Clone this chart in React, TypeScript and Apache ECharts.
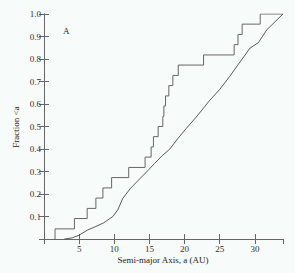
import React, { useEffect, useRef } from "react";
import * as echarts from "echarts";

// Step (cumulative) distribution: x where each step occurs, and the fraction reached
const stepX = [1.57, 1.57, 4.33, 6.14, 7.38, 8.38, 9.62, 12.05, 14.38, 15.24, 15.57, 16.24, 16.9, 17.05, 17.29, 17.76, 18.33, 19.1, 22.7, 27.05, 27.6, 28.19, 30.76, 34.0];
const stepY = [0, 0.045, 0.091, 0.136, 0.182, 0.227, 0.273, 0.318, 0.364, 0.409, 0.455, 0.5, 0.545, 0.591, 0.636, 0.682, 0.727, 0.773, 0.818, 0.864, 0.909, 0.955, 1.0, 1.0];

// Smooth cumulative curve
const curveX = [2.9, 4.0, 5.0, 6.2, 7.4, 8.5, 9.8, 10.5, 11.2, 12.3, 13.7, 14.8, 15.7, 16.8, 17.9, 19.0, 20.2, 21.6, 22.9, 23.4, 25.0, 26.4, 27.5, 28.1, 29.3, 30.5, 31.7, 34.0];
const curveY = [0, 0.005, 0.017, 0.04, 0.056, 0.072, 0.1, 0.13, 0.18, 0.225, 0.27, 0.305, 0.335, 0.37, 0.4, 0.445, 0.49, 0.54, 0.59, 0.61, 0.665, 0.722, 0.77, 0.796, 0.848, 0.873, 0.93, 1.0];

const xMin = 0;
const xMax = 34;
const xStep = 5;
const yMin = 0;
const yMax = 1;
const yStep = 0.1;

const panelLabel = "A";
const xTitle = "Semi-major Axis, a (AU)";
const yTitle = "Fraction <a";

export default function App() {
  const ref = useRef<HTMLDivElement>(null);
  useEffect(() => {
    if (!ref.current) return;
    const chart = echarts.init(ref.current, null, { renderer: "svg" });
    const font = "'Liberation Serif', 'DejaVu Serif', serif";
    const axisColor = "#666";
    const baseX = {
      type: "value" as const,
      min: xMin,
      max: xMax,
      interval: xStep,
      splitLine: { show: false },
      axisLine: { show: true, lineStyle: { color: axisColor, width: 1 } },
      axisTick: { show: true, inside: true, length: 5, lineStyle: { color: axisColor } },
    };
    const baseY = {
      type: "value" as const,
      min: yMin,
      max: yMax,
      interval: yStep,
      splitLine: { show: false },
      axisLine: { show: true, lineStyle: { color: axisColor, width: 1 } },
      axisTick: { show: true, inside: true, length: 5, lineStyle: { color: axisColor } },
    };
    chart.setOption({
      animation: false,
      backgroundColor: "#f7fbf9",
      grid: { left: 44, right: 12, top: 14, bottom: 34, containLabel: false },
      xAxis: [
        {
          ...baseX,
          position: "bottom",
          axisLabel: {
            show: true,
            showMinLabel: false,
            showMaxLabel: false,
            fontFamily: font,
            fontSize: 9,
            color: "#333",
            margin: 5,
          },
        },
        { ...baseX, position: "top", axisLabel: { show: false } },
      ],
      yAxis: [
        {
          ...baseY,
          position: "left",
          axisLabel: {
            show: true,
            showMinLabel: false,
            fontFamily: font,
            fontSize: 9,
            color: "#333",
            margin: 3,
            formatter: (v: number) => v.toFixed(1),
          },
        },
        { ...baseY, position: "right", axisLabel: { show: false } },
      ],
      graphic: [
        {
          type: "text",
          x: 63,
          y: 26,
          style: { text: panelLabel, fontFamily: font, fontSize: 9, fill: "#222" },
        },
        {
          type: "text",
          x: 163,
          y: 260,
          style: {
            text: xTitle,
            fontFamily: font,
            fontSize: 9,
            fill: "#222",
            align: "center",
            verticalAlign: "middle",
          },
        },
        {
          type: "text",
          x: 16,
          y: 127,
          rotation: Math.PI / 2,
          style: {
            text: yTitle,
            fontFamily: font,
            fontSize: 9,
            fill: "#222",
            align: "center",
            verticalAlign: "middle",
          },
        },
      ],
      series: [
        {
          type: "line",
          step: "end",
          showSymbol: false,
          xAxisIndex: 0,
          yAxisIndex: 0,
          data: stepX.map((x, i) => [x, stepY[i]]),
          lineStyle: { color: "#666", width: 1 },
          silent: true,
        },
        {
          type: "line",
          showSymbol: false,
          xAxisIndex: 0,
          yAxisIndex: 0,
          data: curveX.map((x, i) => [x, curveY[i]]),
          lineStyle: { color: "#333", width: 0.8 },
          silent: true,
        },
      ],
    });
    return () => chart.dispose();
  }, []);
  return <div ref={ref} style={{ width: 295, height: 273, position: "absolute", left: 0, top: 0 }} />;
}
